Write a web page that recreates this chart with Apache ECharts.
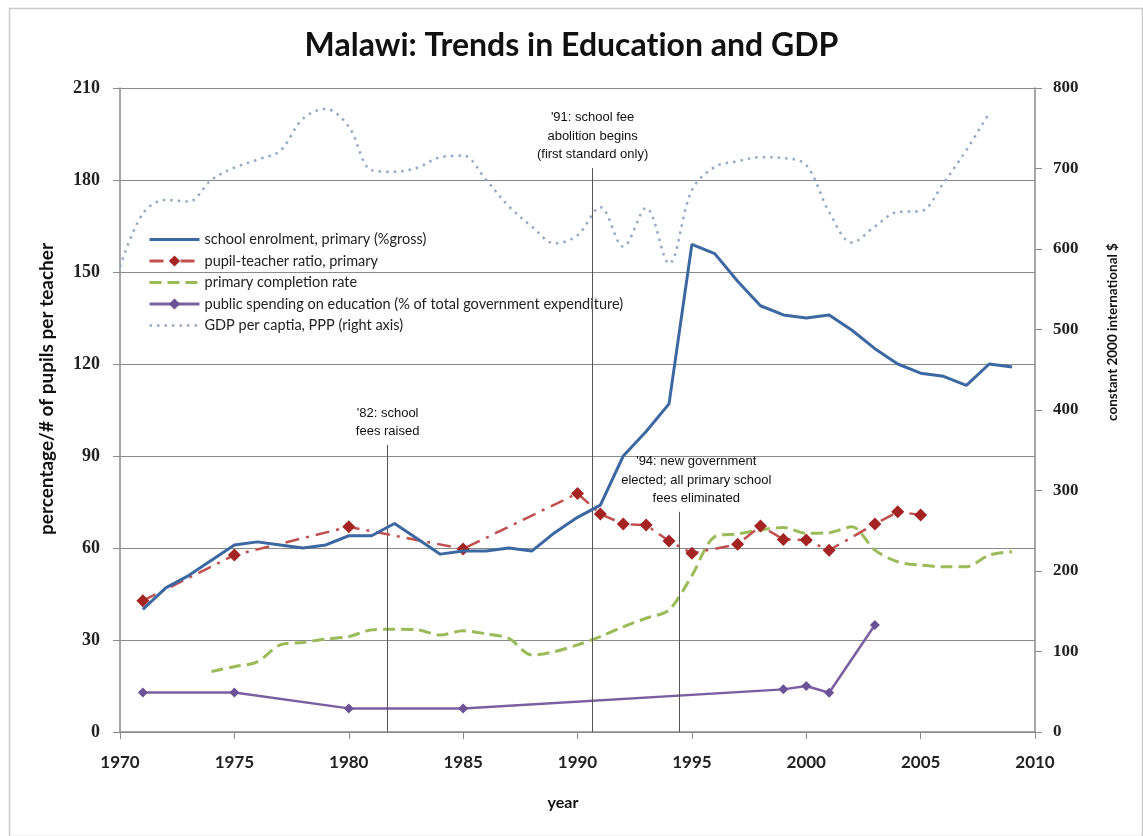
<!DOCTYPE html>
<html>
<head>
<meta charset="utf-8">
<title>Malawi: Trends in Education and GDP</title>
<script src="https://cdn.jsdelivr.net/npm/echarts@6/dist/echarts.min.js"></script>
<style>
  html, body { margin: 0; padding: 0; background: #ffffff; }
  #chart { width: 1143px; height: 836px; }
</style>
</head>
<body>
<div id="chart"></div>
<script>
// Years on the x axis (one entry per data point)
const years = [1970, 1971, 1972, 1973, 1974, 1975, 1976, 1977, 1978, 1979,
               1980, 1981, 1982, 1983, 1984, 1985, 1986, 1987, 1988, 1989,
               1990, 1991, 1992, 1993, 1994, 1995, 1996, 1997, 1998, 1999,
               2000, 2001, 2002, 2003, 2004, 2005, 2006, 2007, 2008, 2009];

// School enrolment, primary (% gross)
const enrolment = [null, 40, 47, 51, 56, 61, 62, 61, 60, 61,
                   64, 64, 68, 63, 58, 59, 59, 60, 59, 65,
                   70, 74, 90, 98, 107, 159, 156, 147, 139, 136,
                   135, 136, 131, 125, 120, 117, 116, 113, 120, 119];

// Pupil-teacher ratio, primary
const pupilTeacher = [null, 42.8, null, null, null, 57.7, null, null, null, null,
                      66.9, null, null, null, null, 59.7, null, null, null, null,
                      77.8, 71.1, 67.8, 67.5, 62.3, 58.3, null, 61.2, 67.2, 62.8,
                      62.6, 59.3, null, 67.8, 71.8, 70.8, null, null, null, null];

// Primary completion rate
const completion = [null, null, null, null, 19.7, 21.3, 22.9, 28.4, 29.2, 30.3,
                    31.1, 33.3, 33.5, 33.3, 31.6, 33.0, 32.0, 30.5, 25.1, 26.2,
                    28.4, 31.1, 34.3, 37.1, 39.8, 51.0, 63.7, 64.6, 65.9, 66.7,
                    64.8, 65.0, 66.9, 59.3, 55.5, 54.4, 53.9, 53.9, 57.7, 58.8];

// Public spending on education (% of total government expenditure)
const spending = [null, 12.9, null, null, null, 12.9, null, null, null, null,
                  7.7, null, null, null, null, 7.7, null, null, null, null,
                  null, null, null, null, null, null, null, null, null, 13.9,
                  15.0, 12.8, null, 34.9, null, null, null, null, null, null];

// GDP per capita, PPP (constant 2000 international $)
const gdp = [578, 644, 661, 659, 686, 701, 711, 722, 762, 774,
             752, 698, 696, 701, 714, 716, 686, 653, 628, 607,
             617, 652, 603, 651, 582, 673, 702, 709, 714, 713,
             704, 646, 608, 628, 646, 647, 682, 723, 769, null];

// Annotated events: year position, height of the marker line (left axis units), text
const eventYears = [1981.7, 1990.66, 1994.45];
const eventTops = [93.6, 183.9, 71.8];
const eventTexts = [
  "'82: school\nfees raised",
  "'91: school fee\nabolition begins\n(first standard only)",
  "'94: new government\nelected; all primary school\nfees eliminated"
];

const seriesNames = [
  'school enrolment, primary (%gross)',
  'pupil-teacher ratio, primary',
  'primary completion rate',
  'public spending on education (% of total government expenditure)',
  'GDP per captia, PPP (right axis)'
];

const pairs = arr => years.map((y, i) => [y, arr[i]]);

const narrowFont = "'Liberation Sans Narrow', 'Arial Narrow', 'Liberation Sans', sans-serif";
// left padding nudges the '94 note to the right of its marker line
const annotationPadding = [[0, 0, 0, 0], [0, 0, 0, 0], [0, 0, 0, 34]];

const eventLines = eventYears.map((yr, i) => [
  { coord: [yr, 0] },
  {
    coord: [yr, eventTops[i]],
    label: {
      show: true,
      position: 'end',
      formatter: eventTexts[i],
      color: '#111',
      fontFamily: narrowFont,
      fontSize: 13,
      lineHeight: 18.5,
      align: 'center',
      distance: 4,
      padding: annotationPadding[i]
    }
  }
]);

// lines without markers get a line-only legend icon
const hiddenSymbol = { opacity: 0 };

const chart = echarts.init(document.getElementById('chart'), null, { renderer: 'canvas' });

const axisGray = '#8a8a8a';

chart.setOption({
  backgroundColor: '#ffffff',
  animation: false,
  title: {
    // zero-width non-joiner keeps "ti" from becoming a ligature
    text: 'Malawi: Trends in Educat\u200Cion and GDP',
    left: 'center',
    top: 25,
    textStyle: { fontFamily: 'Lato, sans-serif', fontWeight: 'bold', fontSize: 32, color: '#111' }
  },
  graphic: [
    {
      type: 'rect', left: 7, top: 6, silent: true,
      shape: { width: 1133, height: 828 },
      style: { fill: 'none', stroke: '#c9c9c9', lineWidth: 1.5 }
    },
    {
      type: 'text', x: 47, y: 389, rotation: Math.PI / 2, silent: true,
      style: {
        text: 'percentage/# of pupils per teacher',
        fontFamily: 'Lato, sans-serif', fontWeight: 'bold', fontSize: 19,
        fill: '#111', align: 'center', verticalAlign: 'middle'
      }
    },
    {
      type: 'text', x: 1113, y: 332, rotation: Math.PI / 2, silent: true,
      style: {
        text: 'constant 2000 international $',
        fontFamily: 'Lato, sans-serif', fontWeight: 'bold', fontSize: 13.5,
        fill: '#111', align: 'center', verticalAlign: 'middle'
      }
    },
    {
      type: 'text', x: 563, y: 803, silent: true,
      style: {
        text: 'year',
        fontFamily: 'Lato, sans-serif', fontWeight: 'bold', fontSize: 16,
        fill: '#111', align: 'center', verticalAlign: 'middle'
      }
    }
  ],
  legend: {
    orient: 'vertical',
    left: 143,
    top: 227,
    itemWidth: 50,
    itemHeight: 14,
    itemGap: 6.5,
    lineStyle: { width: 3 },
    data: [
      { name: seriesNames[0], itemStyle: hiddenSymbol },
      { name: seriesNames[1] },
      { name: seriesNames[2], itemStyle: hiddenSymbol },
      { name: seriesNames[3] },
      { name: seriesNames[4], itemStyle: hiddenSymbol, lineStyle: { width: 2.5 } }
    ],
    textStyle: { fontFamily: 'Lato, sans-serif', fontSize: 14.5, color: '#222' }
  },
  grid: { left: 120, right: 108, top: 88, bottom: 104, containLabel: false },
  xAxis: {
    type: 'value',
    min: 1970,
    max: 2010,
    interval: 5,
    splitLine: { show: false },
    axisLine: { show: true, onZero: false, lineStyle: { color: axisGray, width: 1.5 } },
    axisTick: { show: true, inside: false, length: 7, lineStyle: { color: axisGray } },
    axisLabel: {
      margin: 22,
      color: '#222',
      fontFamily: 'Lato, sans-serif',
      fontWeight: 'bold',
      fontSize: 17,
      formatter: v => String(v)
    }
  },
  yAxis: [
    {
      type: 'value',
      min: 0,
      max: 210,
      interval: 30,
      axisLine: { show: true, lineStyle: { color: axisGray, width: 1.5 } },
      axisTick: { show: true, inside: false, length: 7, lineStyle: { color: axisGray } },
      splitLine: { show: true, lineStyle: { color: axisGray, width: 1.2 } },
      axisLabel: {
        margin: 20,
        color: '#222',
        fontFamily: "'Liberation Serif', serif",
        fontWeight: 'bold',
        fontSize: 18
      }
    },
    {
      type: 'value',
      min: 0,
      max: 800,
      interval: 100,
      position: 'right',
      axisLine: { show: true, lineStyle: { color: axisGray, width: 1.5 } },
      axisTick: { show: true, inside: false, length: 7, lineStyle: { color: axisGray } },
      splitLine: { show: false },
      axisLabel: {
        margin: 18,
        color: '#222',
        fontFamily: "'Liberation Serif', serif",
        fontWeight: 'bold',
        fontSize: 17
      }
    }
  ],
  series: [
    {
      name: seriesNames[4],
      type: 'line',
      yAxisIndex: 1,
      data: pairs(gdp),
      smooth: 0.35,
      symbol: 'none',
      color: '#94aac4',
      lineStyle: { color: '#94aac4', width: 2.5, type: [2.5, 5] },
      z: 2
    },
    {
      name: seriesNames[2],
      type: 'line',
      data: pairs(completion),
      smooth: 0.3,
      symbol: 'none',
      color: '#9bbb59',
      lineStyle: { color: '#9bbb59', width: 3, type: [12, 6] },
      z: 3
    },
    {
      name: seriesNames[3],
      type: 'line',
      data: pairs(spending),
      connectNulls: true,
      symbol: 'diamond',
      symbolSize: 10,
      color: '#7a5fa0',
      itemStyle: { color: '#6b5296' },
      lineStyle: { color: '#7a5fa0', width: 2.5 },
      z: 4
    },
    {
      name: seriesNames[1],
      type: 'line',
      data: pairs(pupilTeacher),
      connectNulls: true,
      symbol: 'diamond',
      symbolSize: 13,
      color: '#c0504d',
      itemStyle: { color: '#a42424' },
      lineStyle: { color: '#c0504d', width: 2.5, type: [14, 7, 3, 7] },
      z: 5
    },
    {
      name: seriesNames[0],
      type: 'line',
      data: pairs(enrolment),
      symbol: 'none',
      color: '#3c68a2',
      lineStyle: { color: '#3c68a2', width: 3 },
      z: 6,
      markLine: {
        silent: true,
        symbol: ['none', 'none'],
        lineStyle: { color: '#555', width: 1, type: 'solid' },
        label: { show: true },
        emphasis: { disabled: true },
        data: eventLines
      }
    }
  ]
});
</script>
</body>
</html>
